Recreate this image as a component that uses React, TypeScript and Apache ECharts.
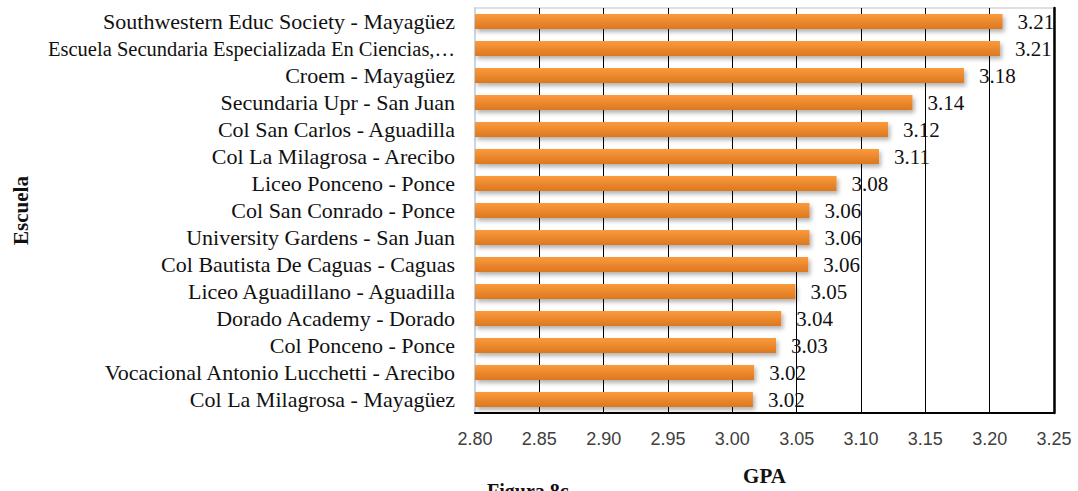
import React, { useEffect, useRef } from "react";
import * as echarts from "echarts";

const categories = [
  "Southwestern Educ Society - Mayagüez",
  "Escuela Secundaria Especializada En Ciencias,…",
  "Croem - Mayagüez",
  "Secundaria Upr - San Juan",
  "Col San Carlos - Aguadilla",
  "Col La Milagrosa - Arecibo",
  "Liceo Ponceno - Ponce",
  "Col San Conrado - Ponce",
  "University Gardens - San Juan",
  "Col Bautista De Caguas - Caguas",
  "Liceo Aguadillano - Aguadilla",
  "Dorado Academy - Dorado",
  "Col Ponceno - Ponce",
  "Vocacional Antonio Lucchetti - Arecibo",
  "Col La Milagrosa - Mayagüez",
];

const gpaValues = [3.21, 3.208, 3.18, 3.14, 3.121, 3.114, 3.081, 3.06, 3.06, 3.059, 3.049, 3.038, 3.034, 3.017, 3.016];

const xTicks = [2.8, 2.85, 2.9, 2.95, 3.0, 3.05, 3.1, 3.15, 3.2, 3.25];

export default function App() {
  const ref = useRef<HTMLDivElement>(null);
  useEffect(() => {
    if (!ref.current) return;
    const chart = echarts.init(ref.current, undefined, { renderer: "svg" });
    chart.setOption({
      animation: false,
      backgroundColor: "#ffffff",
      grid: {
        left: 475,
        right: 24,
        top: 8,
        bottom: 76,
        show: true,
        borderColor: "#bfbfbf",
        borderWidth: 1,
        containLabel: false,
      },
      xAxis: {
        type: "value",
        min: xTicks[0],
        max: xTicks[xTicks.length - 1],
        interval: 0.05,
        name: "GPA",
        nameLocation: "middle",
        nameGap: 52,
        nameTextStyle: { fontFamily: "Liberation Serif", fontWeight: "bold", fontSize: 21, color: "#111" },
        axisLine: { show: true, lineStyle: { color: "#000", width: 2 } },
        axisTick: { show: false },
        axisLabel: {
          margin: 17,
          fontFamily: "Liberation Sans",
          fontSize: 18,
          color: "#404040",
          formatter: (v: number) => v.toFixed(2),
        },
        splitLine: { show: true, lineStyle: { color: "#000", width: 1 } },
      },
      yAxis: [
        {
          type: "category",
          data: categories,
          inverse: true,
          name: "Escuela",
          nameLocation: "middle",
          nameGap: 444,
          nameRotate: 90,
          nameTextStyle: { fontFamily: "Liberation Serif", fontWeight: "bold", fontSize: 21, color: "#111" },
          axisLine: { show: true, lineStyle: { color: "#c9d6e6", width: 2 } },
          axisTick: { show: false },
          axisLabel: {
            interval: 0,
            hideOverlap: false,
            margin: 20,
            fontFamily: "Liberation Serif",
            fontSize: 22,
            color: "#111",
            formatter: (v: string) => (v.length > 40 ? "{s|" + v + "}" : v),
            rich: { s: { fontFamily: "Liberation Serif", fontSize: 20.5, color: "#111" } },
          },
        },
        {
          type: "category",
          data: categories,
          inverse: true,
          position: "right",
          axisLine: { show: true, lineStyle: { color: "#000", width: 2.5 } },
          axisTick: { show: false },
          axisLabel: { show: false },
        },
      ],
      series: [
        {
          type: "bar",
          data: gpaValues,
          barWidth: "55%",
          itemStyle: {
            color: new echarts.graphic.LinearGradient(0, 0, 0, 1, [
              { offset: 0, color: "#fb9a3c" },
              { offset: 1, color: "#dc7820" },
            ]),
            shadowColor: "rgba(0,0,0,0.3)",
            shadowBlur: 4,
            shadowOffsetX: 2,
            shadowOffsetY: 3,
          },
          label: {
            show: true,
            position: "right",
            distance: 15,
            fontFamily: "Liberation Serif",
            fontSize: 21,
            color: "#111",
            formatter: (p: any) => (p.value as number).toFixed(2),
          },
        },
      ],
      graphic: [
        {
          type: "text",
          left: 487,
          top: 481,
          style: { text: "Figura 8c", fontFamily: "Liberation Serif", fontWeight: "bold", fontSize: 20, fill: "#111" },
        },
      ],
    });
    return () => chart.dispose();
  }, []);
  return <div ref={ref} style={{ position: "absolute", left: 0, top: 0, width: 1078, height: 491 }} />;
}
